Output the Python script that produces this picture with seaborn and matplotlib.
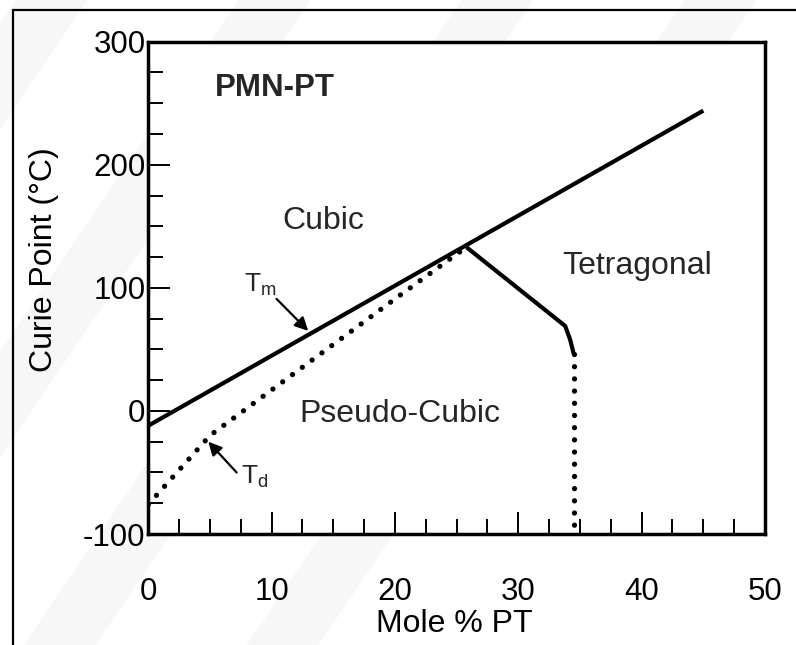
import matplotlib
matplotlib.use("Agg")
import matplotlib.pyplot as plt
from matplotlib.lines import Line2D
from matplotlib.patches import Polygon
from matplotlib.ticker import MultipleLocator
import seaborn as sns

# Phase boundaries of the PMN-PT system
tm_x = [0, 45]
tm_y = [-12, 244]

td_x = [0, 2.5, 5, 10, 15, 20, 25.5]
td_y = [-76, -48, -20, 17, 54, 91, 131]

tet_x = [25.8, 33.8, 34.2, 34.5]
tet_y = [133, 69, 58, 46]

mpb_x = [34.5, 34.5]
mpb_y = [46, -95]

x_ticks = [0, 10, 20, 30, 40, 50]
y_ticks = [-100, 0, 100, 200, 300]

sns.set_theme(style="white")
plt.rcParams["font.family"] = ["Liberation Sans", "DejaVu Sans"]
plt.rcParams["mathtext.fontset"] = "custom"
plt.rcParams["mathtext.rm"] = "Liberation Sans"
plt.rcParams["mathtext.it"] = "Liberation Sans"
plt.rcParams["axes.unicode_minus"] = False

fig = plt.figure(figsize=(7.96, 6.45), dpi=100)
fig.patch.set_facecolor("white")

# faint diagonal watermark bands in the background
for x0 in [-0.30, 0.02, 0.30, 0.58, 0.86]:
    band = Polygon([[x0, 1.0], [x0 + 0.09, 1.0], [x0 + 0.09 - 0.55, 0.0], [x0 - 0.55, 0.0]],
                   closed=True, transform=fig.transFigure, facecolor="#f7f7f7",
                   edgecolor="none", zorder=-10)
    fig.add_artist(band)

# outer frame
fl = 13 / 796
ft = 1 - 10 / 645
fig.add_artist(Line2D([fl, fl], [0, ft], color="black", lw=1.6, transform=fig.transFigure))
fig.add_artist(Line2D([fl, 1], [ft, ft], color="black", lw=1.6, transform=fig.transFigure))

ax = fig.add_axes([148.3 / 796, 1 - 534 / 645, (765 - 148.3) / 796, (534 - 41.7) / 645])
ax.set_facecolor("white")

solid = dict(color="black", linewidth=3.0, solid_capstyle="butt")
dotted = dict(color="black", linewidth=3.8, linestyle=(0, (0.01, 2.3)), dash_capstyle="round")

sns.lineplot(x=tm_x, y=tm_y, ax=ax, **solid)
sns.lineplot(x=td_x, y=td_y, ax=ax, estimator=None, sort=False, **dotted)
sns.lineplot(x=tet_x, y=tet_y, ax=ax, estimator=None, sort=False, **solid)
sns.lineplot(x=mpb_x, y=mpb_y, ax=ax, estimator=None, sort=False, **dotted)

ax.set_xlim(0, 50)
ax.set_ylim(-100, 300)
ax.set_xticks(x_ticks)
ax.set_yticks(y_ticks)
ax.xaxis.set_minor_locator(MultipleLocator(2.5))
ax.yaxis.set_minor_locator(MultipleLocator(25))

for s in ax.spines.values():
    s.set_linewidth(2.5)
    s.set_color("black")

ax.tick_params(axis="both", which="major", direction="in", length=16, width=1.4,
               color="black", labelsize=22.5, labelcolor="black",
               top=False, right=False, bottom=True, left=True)
ax.tick_params(axis="both", which="minor", direction="in", length=11, width=1.4,
               color="black", top=False, right=False, bottom=True, left=True)
ax.tick_params(axis="x", which="major", pad=31)
ax.tick_params(axis="y", which="major", pad=2)

ax.set_xlabel("Mole % PT", fontsize=23, color="black")
ax.set_ylabel("Curie Point (°C)", fontsize=23, color="black")
ax.xaxis.set_label_coords(0.497, -0.152)
ax.yaxis.set_label_coords(-0.145, 0.557)

# phase region labels
ax.text(5.4, 262, "PMN-PT", fontsize=22.5, fontweight="bold", ha="left", va="center")
ax.text(14.2, 148, "Cubic", fontsize=23, ha="center", va="baseline")
ax.text(39.6, 111, "Tetragonal", fontsize=23, ha="center", va="baseline")
ax.text(20.4, -9, "Pseudo-Cubic", fontsize=23, ha="center", va="baseline")

# curve annotations
arrow = dict(arrowstyle="-|>", color="black", lw=1.6, mutation_scale=20, shrinkA=0, shrinkB=0)
ax.annotate("", xy=(12.97, 65), xytext=(10.4, 91), arrowprops=arrow)
ax.text(7.75, 96.5, r"T$_\mathregular{m}$", fontsize=19, ha="left", va="baseline")
ax.annotate("", xy=(4.86, -25), xytext=(7.16, -50), arrowprops=arrow)
ax.text(7.5, -59.5, r"T$_\mathregular{d}$", fontsize=19, ha="left", va="baseline")

fig.savefig("out.png", dpi=100, facecolor="white")
